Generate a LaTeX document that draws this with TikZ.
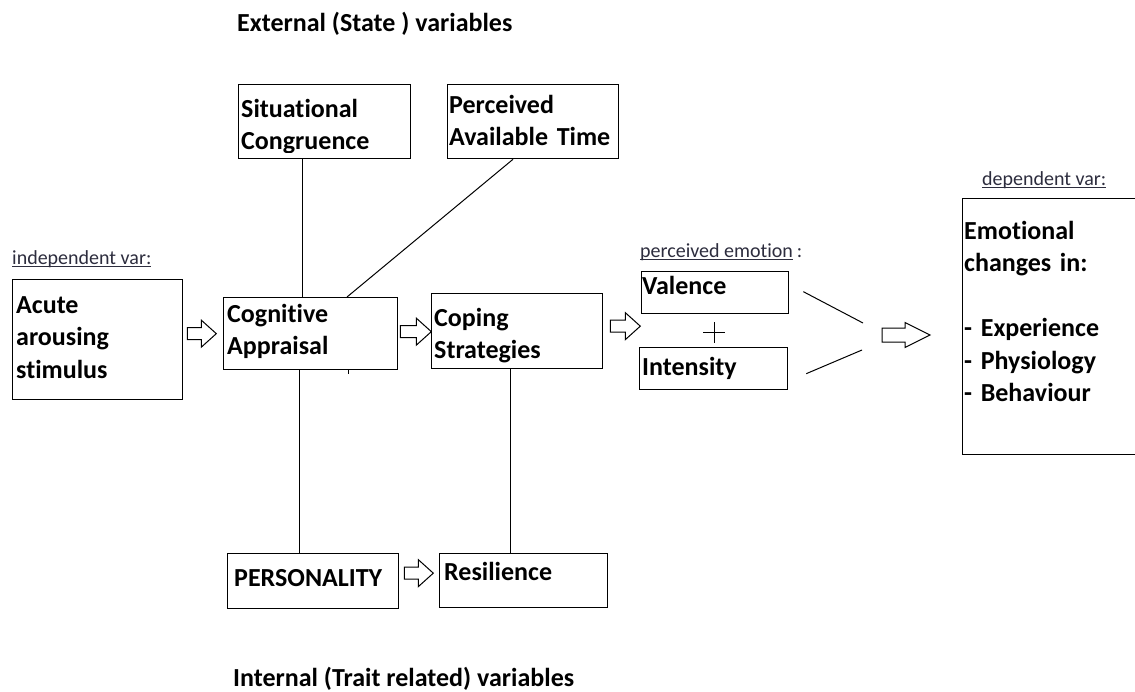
\documentclass[tikz,border=0pt]{standalone}
\usepackage{fontspec}
\setmainfont{Carlito}[Ligatures=NoCommon]
\usetikzlibrary{calc}
\definecolor{labelgray}{RGB}{45,45,62}
% underline drawn close to the baseline
\newcommand\ulbar[1]{\setbox0\hbox{#1}\rlap{\rule[-2.6pt]{\wd0}{0.9pt}}\box0}
\begin{document}
\begin{tikzpicture}[x=1pt,y=-1pt,
  box/.style={draw, line width=1.3pt, inner sep=0pt, anchor=north west},
  txt/.style={anchor=base west, inner sep=0pt, align=left, text width=#1,
    font=\fontsize{26}{32.5}\selectfont\bfseries},
  txt/.default=200,
  title/.style={anchor=base west, inner sep=0pt, font=\fontsize{26}{32}\selectfont\bfseries},
  tag/.style={anchor=base west, inner sep=0pt, text=labelgray, font=\fontsize{20}{24}\selectfont},
  link/.style={line width=1pt},
  hollow/.style={draw, line width=1pt, fill=white, line join=miter},
  pics/harrow/.style n args={4}{code={
    \draw[hollow] (0,-#3) -- (#1-#2,-#3) -- (#1-#2,-#4) -- (#1,0)
      -- (#1-#2,#4) -- (#1-#2,#3) -- (0,#3) -- cycle;}}
]
\useasboundingbox[fill=white] (0,0) rectangle (1135,691);

% titles
\node[title] (ext) at (237,31) {External (State ) variables};
\node[title] (intl) at (233,686) {Internal (Trait related) variables};

% boxes
\node[box, minimum width=172, minimum height=74] (sc) at (238,84) {};
\node[box, minimum width=171, minimum height=74] (pat) at (447,84) {};
\node[box, minimum width=170, minimum height=120] (ac) at (12,279) {};
\node[box, minimum width=174, minimum height=72] (cog) at (223,297) {};
\node[box, minimum width=171, minimum height=75] (cop) at (431,293) {};
\node[box, minimum width=147, minimum height=42] (val) at (641,271) {};
\node[box, minimum width=148, minimum height=42] (int) at (639,347) {};
\node[box, minimum width=180, minimum height=256] (emo) at (962,198) {};
\node[box, minimum width=171, minimum height=55] (per) at (227,553) {};
\node[box, minimum width=168, minimum height=54] (res) at (439,553) {};

% box texts
\begin{scope}
  \clip (sc.north west) rectangle ($(sc.south east)+(0,-7)$);
  \node[txt=168] (scT) at (241,117) {Situational\\Congruence};
\end{scope}
\node[txt] (patT) at (449,113) {Perceived\\Available Time};
\node[txt] (acT) at (16,313) {Acute\\arousing\\stimulus};
\node[txt] (cogT) at (227,322) {Cognitive\\Appraisal};
\begin{scope}
  \clip (cop.north west) rectangle ($(cop.south east)+(0,-7)$);
  \node[txt=168] (copT) at (434,326) {Coping\\Strategies};
\end{scope}
\node[txt] (valT) at (642,294) {Valence};
\node[txt] (intT) at (642,375) {Intensity};
\node[txt] (emoT) at (964,239) {Emotional\\changes in:\\\mbox{}\\- Experience\\- Physiology\\- Behaviour};
\node[txt] (perT) at (234,586) {PERSONALITY};
\node[txt] (resT) at (444,580) {Resilience};

% small labels
\node[tag] (indep) at (12,264) {\ulbar{independent var:}};
\node[tag] (percv) at (640,257) {\ulbar{perceived emotion}\hspace{4pt}:};
\node[tag] (dep) at (982,185) {\ulbar{dependent var:}};

% hollow block arrows
\pic at ($(ac.east)+(4,-6)$) {harrow={29}{15}{6}{13.5}};
\pic at ($(cog.east)+(2,-2)$) {harrow={31}{15}{6}{13.5}};
\pic at ($(cop.east)+(7,-5)$) {harrow={30}{15}{6}{13.5}};
\pic at ($(per.east)+(5,-8)$) {harrow={29}{15}{6}{13.5}};
\pic at (882,335) {harrow={48}{25}{7}{12.5}};

% connecting lines
\draw[link] ($(sc.south west)+(64,0)$) coordinate (a1) -- (a1 |- cog.north);
\draw[link] ($(pat.south west)+(66,0)$) -- ($(cog.north west)+(124,0)$);
\draw[link] ($(cog.south west)+(76,0)$) coordinate (a2) -- (a2 |- per.north);
\draw[link] ($(cog.south west)+(125,0)$) -- ++(0,4);
\draw[link] ($(cop.south west)+(79,0)$) coordinate (a3) -- (a3 |- res.north);
\coordinate (m1) at (863,323);
\coordinate (m2) at (862,350);
\draw[link] ($(val.east)+(14,-1)$) -- (m1);
\draw[link] ($(int.east)+(18,5)$) -- (m2);

% plus sign between valence and intensity
\draw[line width=0.9pt] (703,332) -- (725,332) (714,322) -- (714,343);
\end{tikzpicture}
\end{document}
